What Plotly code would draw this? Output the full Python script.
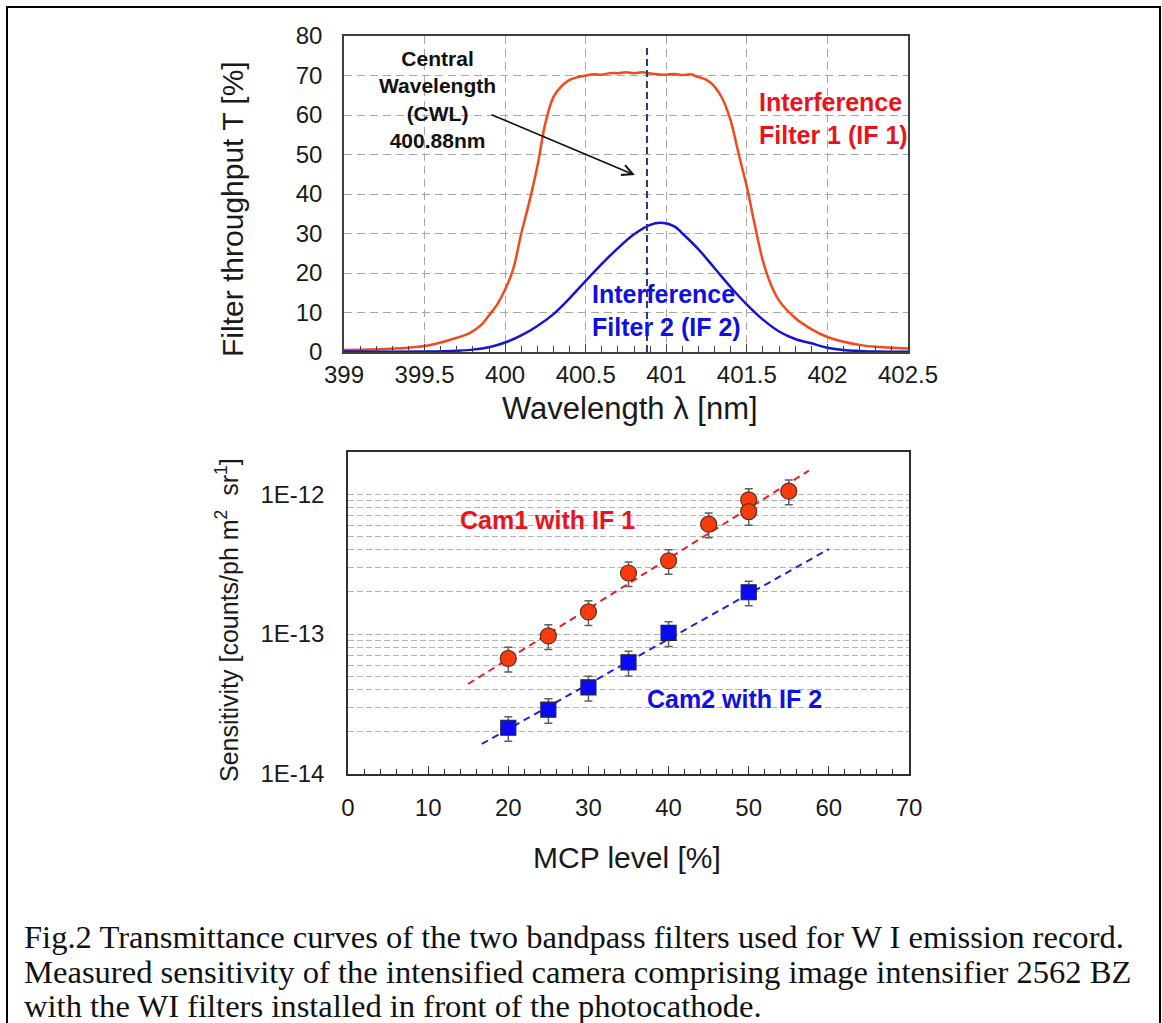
import plotly.graph_objects as go

# ---------------- Data: top panel (filter transmittance) ----------------
wl_if1 = [399.0, 399.2, 399.4, 399.5, 399.6, 399.7, 399.78, 399.85, 399.9, 399.95,
          400.0, 400.05, 400.1, 400.15, 400.2, 400.25, 400.3, 400.35, 400.4, 400.45,
          400.5, 400.55, 400.6, 400.65, 400.7, 400.75, 400.8, 400.85, 400.9, 400.95,
          401.0, 401.05, 401.1, 401.15, 401.2, 401.25, 401.3, 401.35, 401.4, 401.45,
          401.5, 401.55, 401.6, 401.65, 401.7, 401.8, 401.9, 402.0, 402.1, 402.2,
          402.3, 402.4, 402.5]
t_if1 = [0.5, 0.7, 1.1, 1.5, 2.4, 3.6, 4.8, 6.8, 9.3, 12.0,
         15.8, 21.0, 30.0, 38.0, 47.0, 58.0, 64.6, 67.3, 68.9, 69.6,
         70.0, 70.3, 70.2, 70.6, 70.6, 70.8, 70.6, 70.8, 70.5, 70.3,
         70.2, 70.4, 70.1, 70.3, 69.6, 68.9, 67.2, 64.0, 58.5, 50.0,
         41.8, 32.0, 23.0, 17.0, 13.0, 8.6, 5.8, 3.8, 2.6, 1.8,
         1.3, 1.1, 0.9]

wl_if2 = [399.0, 399.5, 399.7, 399.8, 399.9, 400.0, 400.1, 400.2, 400.3, 400.4,
          400.5, 400.6, 400.7, 400.8, 400.9, 400.97, 401.05, 401.1, 401.2, 401.3,
          401.4, 401.5, 401.6, 401.7, 401.8, 401.9, 402.0, 402.1, 402.2, 402.3, 402.5]
t_if2 = [0.1, 0.1, 0.3, 0.6, 1.2, 2.4, 4.2, 6.6, 9.6, 13.6,
         18.0, 22.3, 26.3, 29.8, 32.2, 32.7, 31.8, 30.0, 26.0, 21.2,
         16.4, 12.0, 8.2, 5.2, 3.3, 2.2, 1.1, 0.5, 0.25, 0.1, 0.05]

cwl = 400.88

top_xticks = [399, 399.5, 400, 400.5, 401, 401.5, 402, 402.5]
top_xticktext = ["399", "399.5", "400", "400.5", "401", "401.5", "402", "402.5"]
top_yticks = [0, 10, 20, 30, 40, 50, 60, 70, 80]

# ---------------- Data: bottom panel (sensitivity) ----------------
mcp_cam1 = [20, 25, 30, 35, 40, 45, 50, 50, 55]
sens_cam1 = [6.7e-14, 9.7e-14, 1.44e-13, 2.73e-13, 3.34e-13, 6.1e-13, 9.1e-13, 7.5e-13, 1.05e-12]
mcp_cam2 = [20, 25, 30, 35, 40, 50]
sens_cam2 = [2.14e-14, 2.88e-14, 4.16e-14, 6.28e-14, 1.02e-13, 1.99e-13]
err_percent = 20

fit1_mcp = [15, 57.5]
fit1_sens = [4.4e-14, 1.47e-12]
fit2_mcp = [16.7, 60]
fit2_sens = [1.64e-14, 4.05e-13]

bot_yticks = [1e-14, 1e-13, 1e-12]
bot_yticktext = ["1E-14", "1E-13", "1E-12"]
bot_minor_y = [2e-14, 3e-14, 4e-14, 5e-14, 6e-14, 7e-14, 8e-14, 9e-14,
               2e-13, 3e-13, 4e-13, 5e-13, 6e-13, 7e-13, 8e-13, 9e-13]
bot_xticks = [0, 10, 20, 30, 40, 50, 60, 70]

caption_lines = [
    "Fig.2 Transmittance curves of the two bandpass filters used for W I emission record.",
    "Measured sensitivity of the intensified camera comprising image intensifier 2562 BZ",
    "with the WI filters installed in front of the photocathode.",
]

# ---------------- Styles ----------------
W, H = 1162, 1023
SANS = "Liberation Sans, Arial, sans-serif"
SERIF = "Liberation Serif, Times New Roman, serif"
RED_LINE = "#F04A1E"
BLUE_LINE = "#1414D2"
RED_TXT = "#E8141B"
BLUE_TXT = "#1010E0"
AXIS_COL = "#404040"
GRID_COL = "#A8A8A8"


def px(x):
    return x / W


def py(y):
    return 1 - y / H


fig = go.Figure()

fig.add_trace(go.Scatter(x=wl_if1, y=t_if1, mode="lines", line=dict(color=RED_LINE, width=2.5, shape="spline"),
                         xaxis="x", yaxis="y", showlegend=False))
fig.add_trace(go.Scatter(x=wl_if2, y=t_if2, mode="lines", line=dict(color=BLUE_LINE, width=2.5, shape="spline"),
                         xaxis="x", yaxis="y", showlegend=False))

# fit lines
fig.add_trace(go.Scatter(x=fit1_mcp, y=fit1_sens, mode="lines",
                         line=dict(color="#E52020", width=2, dash="7px,5px"),
                         xaxis="x2", yaxis="y2", showlegend=False))
fig.add_trace(go.Scatter(x=fit2_mcp, y=fit2_sens, mode="lines",
                         line=dict(color="#2020D8", width=2, dash="7px,5px"),
                         xaxis="x2", yaxis="y2", showlegend=False))

fig.add_trace(go.Scatter(x=mcp_cam1, y=sens_cam1, mode="markers",
                         marker=dict(symbol="circle", size=16, color="#FA3C0C", line=dict(color="#5A3020", width=1.2)),
                         error_y=dict(type="percent", value=err_percent, color="#606060", thickness=1.5, width=4),
                         xaxis="x2", yaxis="y2", showlegend=False))
fig.add_trace(go.Scatter(x=mcp_cam2, y=sens_cam2, mode="markers",
                         marker=dict(symbol="square", size=15, color="#0A0AF5", line=dict(color="#202040", width=1.2)),
                         error_y=dict(type="percent", value=err_percent, color="#606060", thickness=1.5, width=4),
                         xaxis="x2", yaxis="y2", showlegend=False))

tickfont = dict(family=SANS, size=24, color="#1a1a1a")

fig.update_layout(
    width=W, height=H,
    margin=dict(l=0, r=0, t=0, b=0, autoexpand=False),
    paper_bgcolor="white", plot_bgcolor="white",
    hovermode=False,
    xaxis=dict(domain=[px(344), px(908)], anchor="y", range=[399, 402.5], automargin=False,
               tickmode="array", tickvals=top_xticks, ticktext=top_xticktext,
               ticks="inside", ticklen=8, tickcolor=AXIS_COL, tickwidth=1,
               minor=dict(dtick=0.1, ticks="inside", ticklen=6, tickcolor=AXIS_COL, showgrid=False),
               showgrid=True, gridcolor=GRID_COL, griddash="8px,5px", gridwidth=1,
               showline=True, linecolor=AXIS_COL, linewidth=1.5, mirror=True,
               zeroline=False, tickfont=tickfont, ticklabelstandoff=0),
    yaxis=dict(domain=[py(352), py(36)], anchor="x", range=[0, 80], automargin=False,
               tickmode="array", tickvals=top_yticks,
               ticks="", showgrid=True, gridcolor=GRID_COL, griddash="8px,5px", gridwidth=1,
               showline=True, linecolor=AXIS_COL, linewidth=1.5, mirror=True,
               zeroline=False, tickfont=tickfont, ticklabelstandoff=15),
    xaxis2=dict(domain=[px(348), px(909)], anchor="y2", range=[0, 70], automargin=False,
                tickmode="array", tickvals=bot_xticks,
                ticks="inside", ticklen=8, tickcolor="#303030", tickwidth=1,
                minor=dict(dtick=2, ticks="inside", ticklen=5, tickcolor="#303030", showgrid=False),
                showgrid=False, showline=True, linecolor="#303030", linewidth=1.5, mirror=True,
                zeroline=False, tickfont=tickfont, ticklabelstandoff=11),
    yaxis2=dict(domain=[py(774), py(452)], anchor="x2", type="log", range=[-14, -11.699], automargin=False,
                tickmode="array", tickvals=bot_yticks, ticktext=bot_yticktext, ticks="",
                showgrid=True, gridcolor="#B4B4B4", griddash="6px,3px", gridwidth=1,
                minor=dict(tickmode="array", tickvals=bot_minor_y, showgrid=True, gridcolor="#B4B4B4",
                           griddash="6px,3px", gridwidth=1, ticks=""),
                showline=True, linecolor="#303030", linewidth=1.5, mirror=True,
                zeroline=False, tickfont=tickfont, ticklabelstandoff=17),
)

# CWL dashed line
fig.add_shape(type="line", xref="x", yref="y", x0=cwl, x1=cwl, y0=-2.8, y1=77.7,
              line=dict(color="#1F3A6E", width=2, dash="7px,4px"))

# Outer frame
fig.add_shape(type="rect", xref="paper", yref="paper", x0=px(7), x1=px(1160), y0=-0.02, y1=py(7),
              line=dict(color="black", width=2))

ann = []
C = dict(xanchor="center", yanchor="middle", showarrow=False)
L = dict(xanchor="left", yanchor="middle", showarrow=False)
# CWL label and arrow
ann.append(dict(xref="x", yref="y", x=399.583, y=63.8, align="center", **C,
                text="<b>Central<br>Wavelength<br>(CWL)<br>400.88nm</b>",
                font=dict(family=SANS, size=21, color="#111111")))
ann.append(dict(xref="x", yref="y", axref="x", ayref="y", x=400.805, y=44.8, ax=399.906, ay=60.25,
                text="", showarrow=True, arrowhead=5, arrowsize=1.3, arrowwidth=1.6, arrowcolor="#111111"))
ann.append(dict(xref="x", yref="y", x=401.562, y=59.2, align="left", **L,
                text="<b>Interference<br>Filter 1 (IF 1)</b>", font=dict(family=SANS, size=25, color=RED_TXT)))
ann.append(dict(xref="x", yref="y", x=400.526, y=10.4, align="left", **L,
                text="<b>Interference<br>Filter 2 (IF 2)</b>", font=dict(family=SANS, size=25, color=BLUE_TXT)))
ann.append(dict(xref="x2", yref="y2", x=13.7, y=-12.186, **L,
                text="<b>Cam1 with IF 1</b>", font=dict(family=SANS, size=25, color=RED_TXT)))
ann.append(dict(xref="x2", yref="y2", x=37.1, y=-13.464, **L,
                text="<b>Cam2 with IF 2</b>", font=dict(family=SANS, size=25, color=BLUE_TXT)))

# Axis titles
ann.append(dict(xref="paper", yref="paper", x=px(232), y=py(209), textangle=-90, **C,
                text="Filter throughput T [%]", font=dict(family=SANS, size=30, color="#1a1a1a")))
ann.append(dict(xref="paper", yref="paper", x=px(630), y=py(408), **C,
                text="Wavelength λ [nm]", font=dict(family=SANS, size=31, color="#1a1a1a")))
ann.append(dict(xref="paper", yref="paper", x=px(227), y=py(620), textangle=-90, **C,
                text="Sensitivity [counts/ph m<sup>2</sup>  sr<sup>1</sup>]",
                font=dict(family=SANS, size=25, color="#1a1a1a")))
ann.append(dict(xref="paper", yref="paper", x=px(627), y=py(857), **C,
                text="MCP level [%]", font=dict(family=SANS, size=30, color="#1a1a1a")))

# Caption
for line, yc in zip(caption_lines, [937, 972, 1006]):
    ann.append(dict(xref="paper", yref="paper", x=px(22), y=py(yc), **L,
                    text=line, font=dict(family=SERIF, size=32.6, color="#111111")))

fig.update_layout(annotations=ann)

fig.write_html("out.html", config={"displayModeBar": False},
               post_script="document.body.style.margin='0px';document.body.style.overflow='hidden';")
